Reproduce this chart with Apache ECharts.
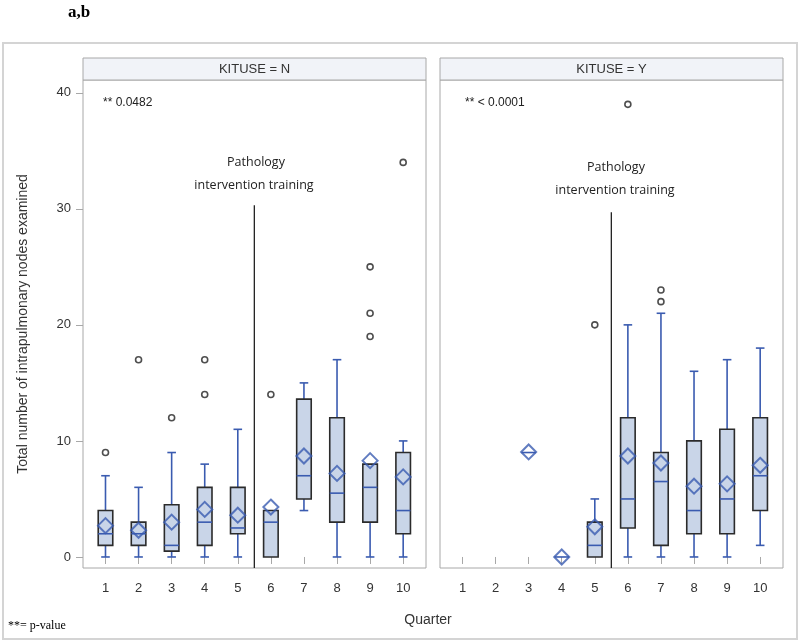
<!DOCTYPE html>
<html>
<head>
<meta charset="utf-8">
<script src="https://cdn.jsdelivr.net/npm/echarts@6/dist/echarts.min.js"></script>
<style>
html,body{margin:0;padding:0;background:#fff;}
#chart{width:800px;height:643px;}
</style>
</head>
<body>
<div id="chart"></div>
<script>
// ---------- data ----------
const quarters = [1, 2, 3, 4, 5, 6, 7, 8, 9, 10];
const xTickLabels = [1, 2, 3, 4, 5, 6, 7, 8, 9, 10];
const yTickLabels = [0, 10, 20, 30, 40];
const panelTitles = ['KITUSE = N', 'KITUSE = Y'];
const pValues = ['** 0.0482', '** < 0.0001'];

// KITUSE = N
const nWhiskerLow  = [0, 0, 0,   0, 0,   0, 4,    0,   0, 0];
const nQ1          = [1, 1, 0.5, 1, 2,   0, 5,    3,   3, 2];
const nMedian      = [2, 2, 1,   3, 2.5, 3, 7,    5.5, 6, 4];
const nQ3          = [4, 3, 4.5, 6, 6,   4, 13.6, 12,  8, 9];
const nWhiskerHigh = [7, 6, 9,   8, 11,  4, 15,   17,  8, 10];
const nMean        = [2.7, 2.3, 3.0, 4.1, 3.6, 4.3, 8.7, 7.2, 8.3, 6.9];
const nOutlierQ    = [1, 2, 3, 4, 4, 6, 9, 9, 9, 10];
const nOutlierV    = [9, 17, 12, 17, 14, 14, 25, 21, 19, 34];

// KITUSE = Y
const yWhiskerLow  = [null, null, 9, 0, 0, 0,   0,   0,  0,  1];
const yQ1          = [null, null, 9, 0, 0, 2.5, 1,   2,  2,  4];
const yMedian      = [null, null, 9, 0, 1, 5,   6.5, 4,  5,  7];
const yQ3          = [null, null, 9, 0, 3, 12,  9,   10, 11, 12];
const yWhiskerHigh = [null, null, 9, 0, 5, 20,  21,  16, 17, 18];
const yMean        = [null, null, 9.05, 0, 2.6, 8.7, 8.1, 6.1, 6.3, 7.9];
const yOutlierQ    = [5, 6, 7, 7];
const yOutlierV    = [20, 39, 23, 22];

// training line (between quarter 5 and 6)
const trainingX = 5.5;
const trainingTop = [30.3, 29.7];

// ---------- styling ----------
const BOX_FILL = '#c9d5e8';
const BOX_EDGE = '#2b2b2b';
const BLUE = '#3a5bb0';
const AXIS_GRAY = '#a8a8a8';
const TXT = '#333';
const X_MIN = 0.32, X_MAX = 10.69;
const Y_MIN = -0.95, Y_MAX = 41.1;

function boxData(lo, q1, med, q3, hi) {
  const out = [];
  quarters.forEach((q, i) => {
    if (med[i] === null) return;
    out.push([q, lo[i], q1[i], med[i], q3[i], hi[i]]);
  });
  return out;
}
function pairData(xs, ys) {
  const out = [];
  xs.forEach((x, i) => { if (ys[i] !== null) out.push([x, ys[i]]); });
  return out;
}

function renderBox(params, api) {
  const x = api.value(0);
  const lo = api.value(1), q1 = api.value(2), med = api.value(3), q3 = api.value(4), hi = api.value(5);
  const halfBox = 0.22, halfCap = 0.13;
  const pLo = api.coord([x, lo]);
  const pHi = api.coord([x, hi]);
  const pQ1 = api.coord([x, q1]);
  const pQ3 = api.coord([x, q3]);
  const pMed = api.coord([x, med]);
  const bl = api.coord([x - halfBox, 0])[0];
  const br = api.coord([x + halfBox, 0])[0];
  const cl = api.coord([x - halfCap, 0])[0];
  const cr = api.coord([x + halfCap, 0])[0];
  const wStyle = { stroke: BLUE, lineWidth: 1.6 };
  const children = [];
  if (hi > q3) {
    children.push({ type: 'line', shape: { x1: pHi[0], y1: pHi[1], x2: pQ3[0], y2: pQ3[1] }, style: wStyle });
    children.push({ type: 'line', shape: { x1: cl, y1: pHi[1], x2: cr, y2: pHi[1] }, style: wStyle });
  }
  if (lo < q1) {
    children.push({ type: 'line', shape: { x1: pLo[0], y1: pLo[1], x2: pQ1[0], y2: pQ1[1] }, style: wStyle });
    children.push({ type: 'line', shape: { x1: cl, y1: pLo[1], x2: cr, y2: pLo[1] }, style: wStyle });
  }
  if (q3 > q1) {
    children.push({
      type: 'rect',
      shape: { x: bl, y: pQ3[1], width: br - bl, height: pQ1[1] - pQ3[1] },
      style: { fill: BOX_FILL, stroke: BOX_EDGE, lineWidth: 1.6 }
    });
  }
  children.push({ type: 'line', shape: { x1: bl, y1: pMed[1], x2: br, y2: pMed[1] }, style: { stroke: BLUE, lineWidth: 1.6 } });
  return { type: 'group', children: children };
}

const grids = [
  { left: 83, top: 80, width: 343, height: 488, show: true, borderColor: AXIS_GRAY, borderWidth: 1, backgroundColor: '#fff' },
  { left: 440, top: 80, width: 343, height: 488, show: true, borderColor: AXIS_GRAY, borderWidth: 1, backgroundColor: '#fff' }
];

function makeX(gi) {
  return {
    type: 'value', gridIndex: gi, min: X_MIN, max: X_MAX,
    splitLine: { show: false },
    axisLine: { show: false },
    axisTick: { show: true, length: 7, lineStyle: { color: AXIS_GRAY }, customValues: xTickLabels },
    axisLabel: { show: true, color: TXT, fontFamily: 'Liberation Sans, Arial', fontSize: 13, margin: 14, customValues: xTickLabels }
  };
}
function makeY(gi) {
  return {
    type: 'value', gridIndex: gi, min: Y_MIN, max: Y_MAX,
    splitLine: { show: false },
    axisLine: { show: false },
    axisTick: { show: gi === 0, length: 7, lineStyle: { color: AXIS_GRAY }, customValues: yTickLabels },
    axisLabel: { show: gi === 0, color: TXT, fontFamily: 'Liberation Sans, Arial', fontSize: 13, margin: 12, customValues: yTickLabels },
    name: gi === 0 ? 'Total number of intrapulmonary nodes examined' : '',
    nameLocation: 'middle', nameGap: 53, nameRotate: 90,
    nameTextStyle: { color: TXT, fontFamily: 'Liberation Sans, Arial', fontSize: 14 }
  };
}

const panels = [
  { box: boxData(nWhiskerLow, nQ1, nMedian, nQ3, nWhiskerHigh), mean: pairData(quarters, nMean), out: pairData(nOutlierQ, nOutlierV) },
  { box: boxData(yWhiskerLow, yQ1, yMedian, yQ3, yWhiskerHigh), mean: pairData(quarters, yMean), out: pairData(yOutlierQ, yOutlierV) }
];

const series = [];
panels.forEach((p, gi) => {
  series.push({
    type: 'line', xAxisIndex: gi, yAxisIndex: gi, silent: true, symbol: 'none',
    data: [[trainingX, Y_MIN], [trainingX, trainingTop[gi]]],
    lineStyle: { color: '#222', width: 1.3 }, z: 1
  });
  series.push({
    type: 'custom', xAxisIndex: gi, yAxisIndex: gi, renderItem: renderBox,
    data: p.box, encode: { x: 0, y: [1, 2, 3, 4, 5] }, z: 2
  });
  series.push({
    type: 'scatter', xAxisIndex: gi, yAxisIndex: gi, data: p.mean,
    symbol: 'diamond', symbolSize: 15,
    itemStyle: { color: 'rgba(0,0,0,0)', borderColor: BLUE, borderWidth: 2 }, z: 3
  });
  series.push({
    type: 'scatter', xAxisIndex: gi, yAxisIndex: gi, data: p.out,
    symbol: 'circle', symbolSize: 6,
    itemStyle: { color: '#fff', borderColor: '#222', borderWidth: 1.6 }, z: 3
  });
});

const annFont = 'Open Sans, Noto Sans, sans-serif';
const graphic = [
  { type: 'rect', shape: { x: 3, y: 43, width: 794, height: 596 }, style: { fill: 'none', stroke: '#d4d4d4', lineWidth: 2 }, z: -10 },
  { type: 'text', x: 68, y: 13, style: { text: 'a,b', font: 'bold 17px "Liberation Serif", serif', fill: '#000', textVerticalAlign: 'middle' } },
  { type: 'rect', shape: { x: 83, y: 58, width: 343, height: 22 }, style: { fill: '#f1f3f8', stroke: AXIS_GRAY, lineWidth: 1 } },
  { type: 'rect', shape: { x: 440, y: 58, width: 343, height: 22 }, style: { fill: '#f1f3f8', stroke: AXIS_GRAY, lineWidth: 1 } },
  { type: 'text', x: 254.5, y: 69, style: { text: panelTitles[0], font: '13px "Liberation Sans", Arial', fill: TXT, textAlign: 'center', textVerticalAlign: 'middle' } },
  { type: 'text', x: 611.5, y: 69, style: { text: panelTitles[1], font: '13px "Liberation Sans", Arial', fill: TXT, textAlign: 'center', textVerticalAlign: 'middle' } },
  { type: 'text', x: 103, y: 103, style: { text: pValues[0], font: '12px "Liberation Sans", Arial', fill: '#222', textVerticalAlign: 'middle' } },
  { type: 'text', x: 465, y: 103, style: { text: pValues[1], font: '12px "Liberation Sans", Arial', fill: '#222', textVerticalAlign: 'middle' } },
  { type: 'text', x: 256, y: 162, style: { text: 'Pathology', font: '12.5px ' + annFont, fill: '#222', textAlign: 'center', textVerticalAlign: 'middle' } },
  { type: 'text', x: 254, y: 185, style: { text: 'intervention training', font: '12.5px ' + annFont, fill: '#222', textAlign: 'center', textVerticalAlign: 'middle' } },
  { type: 'text', x: 616, y: 167, style: { text: 'Pathology', font: '12.5px ' + annFont, fill: '#222', textAlign: 'center', textVerticalAlign: 'middle' } },
  { type: 'text', x: 615, y: 190, style: { text: 'intervention training', font: '12.5px ' + annFont, fill: '#222', textAlign: 'center', textVerticalAlign: 'middle' } },
  { type: 'text', x: 428, y: 620, style: { text: 'Quarter', font: '14px "Liberation Sans", Arial', fill: TXT, textAlign: 'center', textVerticalAlign: 'middle' } },
  { type: 'text', x: 8, y: 626, style: { text: '**= p-value', font: '12px "Liberation Serif", serif', fill: '#000', textVerticalAlign: 'middle' } }
];

const chart = echarts.init(document.getElementById('chart'), null, { renderer: 'canvas' });
chart.setOption({
  animation: false,
  backgroundColor: '#fff',
  grid: grids,
  xAxis: [makeX(0), makeX(1)],
  yAxis: [makeY(0), makeY(1)],
  series: series,
  graphic: graphic
});
</script>
</body>
</html>
